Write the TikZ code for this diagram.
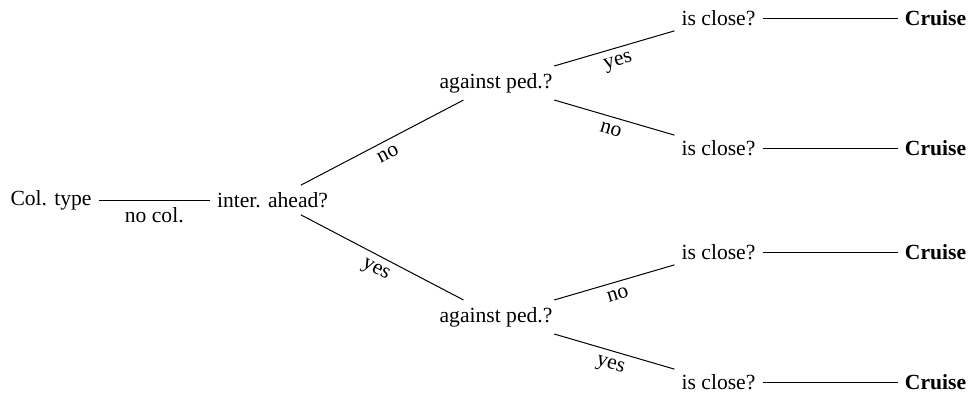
\documentclass[tikz,border=0pt]{standalone}
\usepackage{fontspec}
\setmainfont{Liberation Serif}
\begin{document}
\begin{tikzpicture}[x=0.5pt,y=-0.5pt,
  every node/.style={font=\fontsize{10.8}{13}\selectfont, inner sep=3.4pt},
  leaf/.style={font=\fontsize{10.8}{13}\selectfont\bfseries},
  lbl/.style={midway, below, sloped},
  conn/.style={line width=0.5pt}]
\useasboundingbox (0,0) rectangle (973,396);
\node (col) at (51,200) {Col. type};
\node (inter) at (272.5,200) {inter. ahead?};
\node (ap1) at (496,83) {against ped.?};
\node (ap2) at (496,317) {against ped.?};
\node (c1) at (718.5,18) {is close?};
\node (c2) at (718.5,148) {is close?};
\node (c3) at (718.5,252) {is close?};
\node (c4) at (718.5,382) {is close?};
\node[leaf] (r1) at (935.5,18) {Cruise};
\node[leaf] (r2) at (935.5,148) {Cruise};
\node[leaf] (r3) at (935.5,252) {Cruise};
\node[leaf] (r4) at (935.5,382) {Cruise};
\draw[conn] (col) -- node[lbl] {no col.} (inter);
\draw[conn] (inter) -- node[lbl] {no} (ap1);
\draw[conn] (inter) -- node[lbl] {yes} (ap2);
\draw[conn] (ap1) -- node[lbl] {yes} (c1);
\draw[conn] (ap1) -- node[lbl] {no} (c2);
\draw[conn] (ap2) -- node[lbl] {no} (c3);
\draw[conn] (ap2) -- node[lbl] {yes} (c4);
\draw[conn] (c1) -- (r1);
\draw[conn] (c2) -- (r2);
\draw[conn] (c3) -- (r3);
\draw[conn] (c4) -- (r4);
\end{tikzpicture}
\end{document}
